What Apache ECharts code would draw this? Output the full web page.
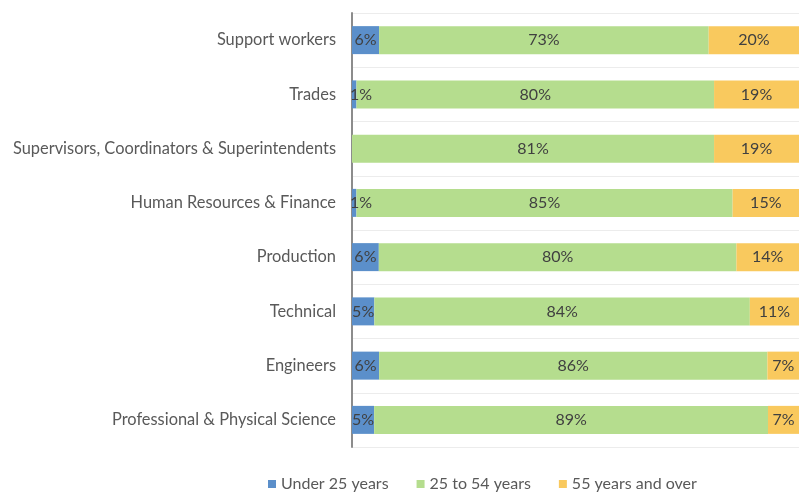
<!DOCTYPE html>
<html>
<head>
<meta charset="utf-8">
<title>Age distribution by occupation</title>
<script src="https://cdn.jsdelivr.net/npm/echarts@6/dist/echarts.min.js"></script>
<style>
  html, body { margin: 0; padding: 0; background: #ffffff; }
  #chart { width: 804px; height: 492px; }
</style>
</head>
<body>
<div id="chart"></div>
<script>
// Occupation groups, listed top to bottom
const categories = [
  'Support workers',
  'Trades',
  'Supervisors, Coordinators & Superintendents',
  'Human Resources & Finance',
  'Production',
  'Technical',
  'Engineers',
  'Professional & Physical Science'
];

// Share of workers in each age band (%)
const under25 = [6, 1, 0, 1, 6, 5, 6, 5];
const age25to54 = [73, 80, 81, 85, 80, 84, 86, 89];
const age55plus = [20, 19, 19, 15, 14, 11, 7, 7];

const seriesNames = ['Under 25 years', '25 to 54 years', '55 years and over'];
const seriesColors = ['#5b8fca', '#b5dd8e', '#f9c95e'];

const FONT = 'Lato';
const TEXT = '#595959';

// 100% stacked: each segment is drawn as its share of the row total
const rowTotals = categories.map((_, i) => under25[i] + age25to54[i] + age55plus[i]);

function buildData(values) {
  return values.map((v, i) => ({
    value: v / rowTotals[i] * 100,
    raw: v,
    label: {
      show: v > 0,
      position: v < 3 ? 'insideLeft' : 'inside',
      distance: 0,
      offset: v < 3 ? [-2, 0] : [0, 0]
    }
  }));
}

const groups = [under25, age25to54, age55plus];

const series = groups.map((vals, k) => ({
  name: seriesNames[k],
  type: 'bar',
  stack: 'total',
  barWidth: 28,
  itemStyle: { color: seriesColors[k] },
  label: {
    show: true,
    color: '#404040',
    fontFamily: FONT,
    fontSize: 16,
    formatter: p => p.data.raw + '%'
  },
  emphasis: { disabled: true },
  data: buildData(vals)
}));

const chart = echarts.init(document.getElementById('chart'), null, { renderer: 'canvas' });
chart.setOption({
  animation: false,
  backgroundColor: '#ffffff',
  textStyle: { fontFamily: FONT },
  grid: { left: 352, right: 5, top: 13, bottom: 45, containLabel: false },
  legend: {
    top: 471,
    left: 263,
    itemWidth: 8,
    itemHeight: 8,
    itemGap: 28,
    icon: 'rect',
    textStyle: { color: TEXT, fontSize: 16, fontFamily: FONT },
    data: seriesNames
  },
  xAxis: {
    type: 'value',
    min: 0,
    max: 100,
    show: false
  },
  yAxis: {
    type: 'category',
    inverse: true,
    data: categories,
    axisLine: { show: true, lineStyle: { color: '#8c8c8c', width: 2 } },
    axisTick: { show: false },
    axisLabel: { color: TEXT, fontSize: 16.4, fontFamily: FONT, margin: 16 },
    splitLine: { show: true, lineStyle: { color: '#ececec', width: 1 } }
  },
  series: series
});
</script>
</body>
</html>
